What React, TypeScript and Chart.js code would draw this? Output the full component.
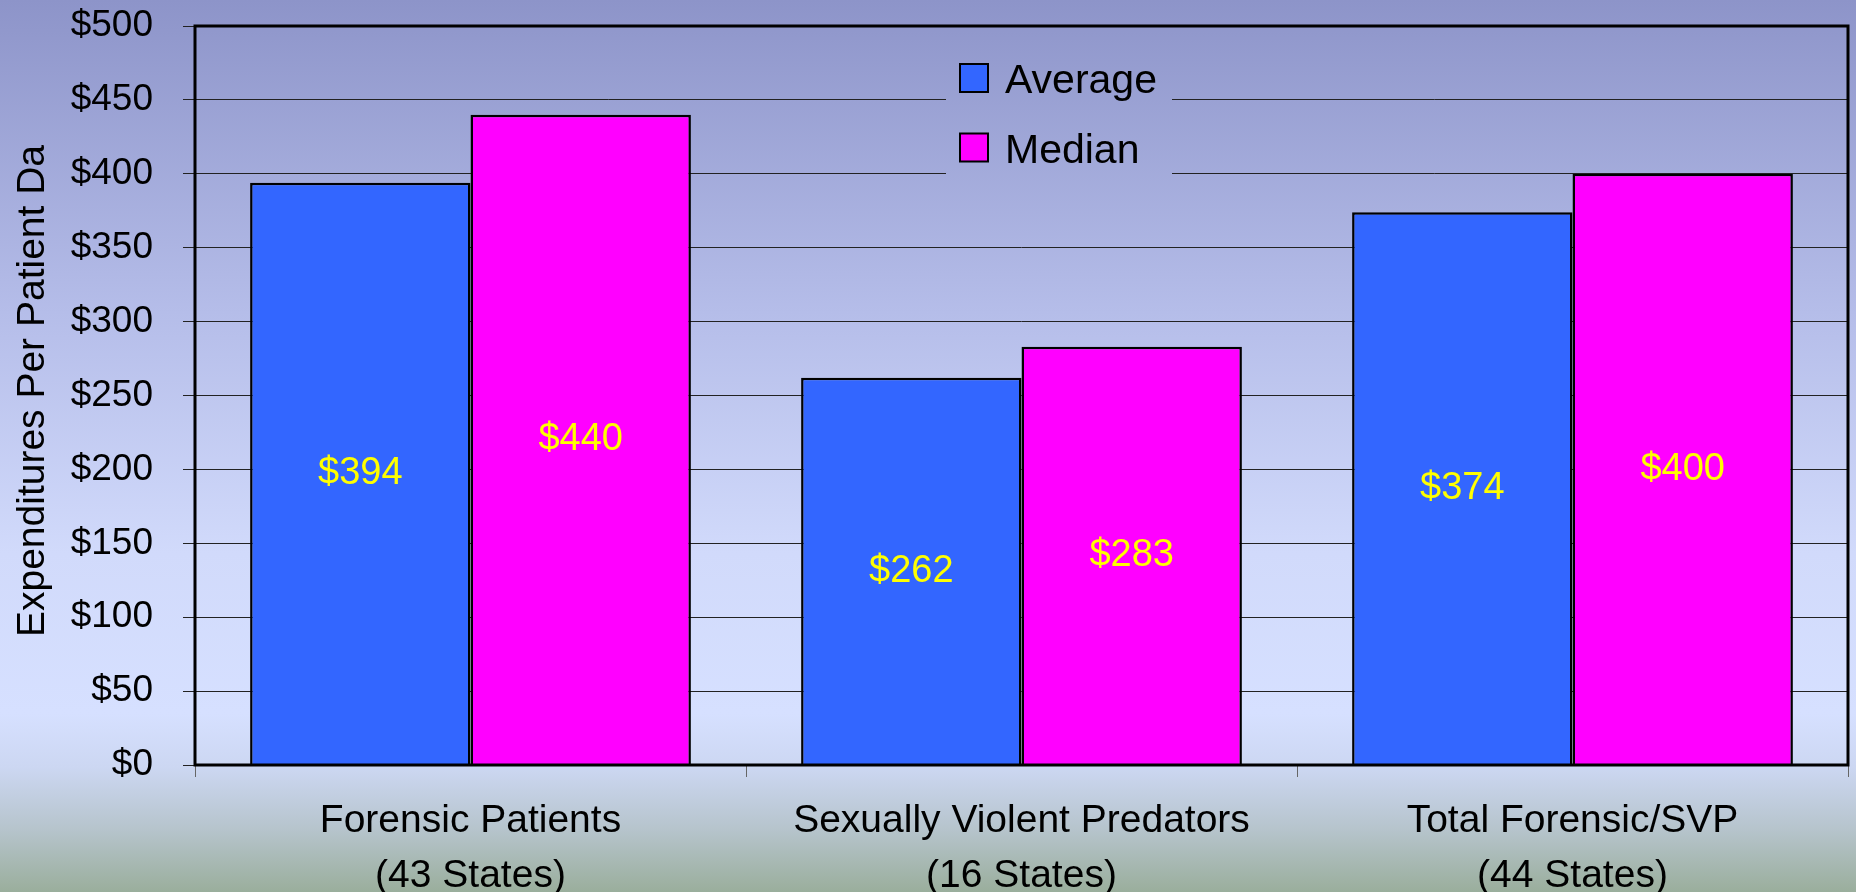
import React, { useEffect, useRef } from 'react';
import { Chart, registerables } from 'chart.js';

Chart.register(...registerables);

const categories: string[][] = [
  ['Forensic Patients', '(43 States)'],
  ['Sexually Violent Predators', '(16 States)'],
  ['Total Forensic/SVP', '(44 States)'],
];
const averageValues = [394, 262, 374];
const medianValues = [440, 283, 400];
const seriesNames = ['Average', 'Median'];
const seriesColors = ['#3366FF', '#FF00FF'];
const yTitle = 'Expenditures Per Patient Da';
const yMin = 0;
const yMax = 500;
const yStep = 50;

const FONT = "'Liberation Sans', Arial, Helvetica, sans-serif";
const W = 1856;
const H = 892;

function makeGradient(ctx: CanvasRenderingContext2D, h: number) {
  const g = ctx.createLinearGradient(0, 0, 0, h);
  g.addColorStop(0, '#8D94C9');
  g.addColorStop(0.35, '#B5BDE9');
  g.addColorStop(0.62, '#D1DAFB');
  g.addColorStop(0.8, '#D6E0FF');
  g.addColorStop(0.86, '#CCD7F2');
  g.addColorStop(0.93, '#B6C4CC');
  g.addColorStop(1, '#9AAE9C');
  return g;
}

const backgroundPlugin = {
  id: 'bgGradient',
  beforeDraw(chart: any) {
    const ctx = chart.ctx as CanvasRenderingContext2D;
    ctx.save();
    ctx.fillStyle = makeGradient(ctx, chart.height);
    ctx.fillRect(0, 0, chart.width, chart.height);
    ctx.restore();
  },
};

const frameAndLabelsPlugin = {
  id: 'frameAndLabels',
  afterDatasetsDraw(chart: any) {
    const ctx = chart.ctx as CanvasRenderingContext2D;
    const area = chart.chartArea;
    ctx.save();
    // value labels centred inside each bar
    ctx.font = `38px ${FONT}`;
    ctx.fillStyle = '#FFFF00';
    ctx.textAlign = 'center';
    ctx.textBaseline = 'middle';
    chart.data.datasets.forEach((ds: any, di: number) => {
      const meta = chart.getDatasetMeta(di);
      meta.data.forEach((bar: any, i: number) => {
        const v = ds.data[i];
        const cy = (bar.y + bar.base) / 2;
        ctx.fillText('$' + v, bar.x, cy);
      });
    });
    // plot frame
    ctx.strokeStyle = '#000';
    ctx.lineWidth = 3;
    ctx.strokeRect(area.left, area.top, area.right - area.left, area.bottom - area.top);
    ctx.restore();
  },
  afterDraw(chart: any) {
    const ctx = chart.ctx as CanvasRenderingContext2D;
    ctx.save();
    // legend box (covers grid lines)
    ctx.fillStyle = makeGradient(ctx, chart.height);
    ctx.fillRect(946, 40, 226, 146);
    const rows = [78, 147.5];
    seriesNames.forEach((name, i) => {
      const cy = rows[i];
      ctx.fillStyle = seriesColors[i];
      ctx.fillRect(960, cy - 14, 28, 28);
      ctx.strokeStyle = '#000';
      ctx.lineWidth = 2;
      ctx.strokeRect(960, cy - 14, 28, 28);
      ctx.fillStyle = '#000';
      ctx.font = `41px ${FONT}`;
      ctx.textAlign = 'left';
      ctx.textBaseline = 'alphabetic';
      ctx.fillText(name, 1005, cy + 15);
    });
    // y axis title
    ctx.translate(44, 391);
    ctx.rotate(-Math.PI / 2);
    ctx.fillStyle = '#000';
    ctx.font = `39px ${FONT}`;
    ctx.textAlign = 'center';
    ctx.textBaseline = 'alphabetic';
    ctx.fillText(yTitle, 0, 0);
    ctx.restore();
  },
};

export default function App() {
  const ref = useRef<HTMLCanvasElement | null>(null);

  useEffect(() => {
    document.body.style.margin = '0';
    const canvas = ref.current;
    if (!canvas) return;
    const chart = new Chart(canvas, {
      type: 'bar',
      data: {
        labels: categories,
        datasets: [
          {
            label: seriesNames[0],
            data: averageValues,
            backgroundColor: seriesColors[0],
            borderColor: '#000',
            borderWidth: 2.5,
            categoryPercentage: 0.8,
            barPercentage: 1.0,
          },
          {
            label: seriesNames[1],
            data: medianValues,
            backgroundColor: seriesColors[1],
            borderColor: '#000',
            borderWidth: 2.5,
            categoryPercentage: 0.8,
            barPercentage: 1.0,
          },
        ],
      },
      options: {
        responsive: false,
        animation: false,
        devicePixelRatio: 1,
        layout: { padding: { top: 26, right: 8, left: 0, bottom: 0 } },
        plugins: {
          legend: { display: false },
          tooltip: { enabled: false },
          title: { display: false },
        },
        scales: {
          x: {
            grid: {
              display: true,
              drawOnChartArea: false,
              drawTicks: true,
              tickLength: 12,
              color: '#666',
              offset: true,
            },
            border: { display: false },
            ticks: {
              color: '#000',
              font: { size: 39, family: FONT, lineHeight: 1.4 },
              padding: 17,
              maxRotation: 0,
              autoSkip: false,
            },
            afterFit(scale: any) {
              scale.height = 127;
              scale.paddingLeft = 0;
              scale.paddingRight = 0;
            },
          },
          y: {
            min: yMin,
            max: yMax,
            grid: {
              color: '#222',
              lineWidth: 1,
              tickLength: 12,
              drawTicks: true,
            },
            border: { display: false },
            ticks: {
              stepSize: yStep,
              color: '#000',
              font: { size: 37, family: FONT },
              padding: 30,
              callback: (v: any) => '$' + v,
            },
            afterFit(scale: any) {
              scale.width = 195;
              scale.paddingTop = 0;
              scale.paddingBottom = 0;
            },
          },
        },
      },
      plugins: [backgroundPlugin, frameAndLabelsPlugin],
    });
    return () => chart.destroy();
  }, []);

  return <canvas ref={ref} width={W} height={H} style={{ display: 'block' }} />;
}
